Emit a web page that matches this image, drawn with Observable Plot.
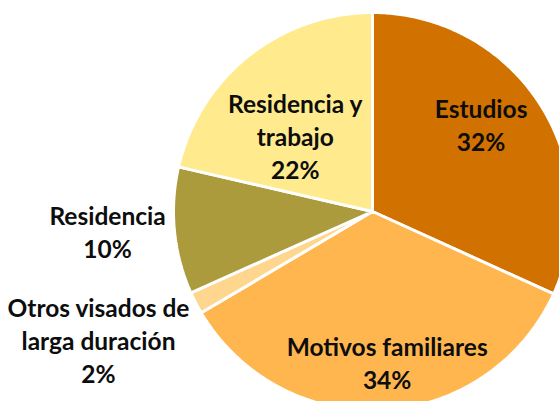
<!DOCTYPE html>
<html><head><meta charset="utf-8">
<script src="https://cdn.jsdelivr.net/npm/d3@7"></script>
<script src="https://cdn.jsdelivr.net/npm/@observablehq/plot@0.6"></script>
<style>html,body{margin:0;padding:0;background:#fff}svg{display:block}</style>
</head><body><div id="chart"></div>
<script>
const categories = ["Estudios", "Motivos familiares", "Otros visados de larga duración", "Residencia", "Residencia y trabajo"];
const nameLines = ["Estudios", "Motivos familiares", "Otros visados de\nlarga duración", "Residencia", "Residencia y\ntrabajo"];
const values = [31.8, 34.7, 1.8, 10.3, 21.4];
const pctLabels = ["32%", "34%", "2%", "10%", "22%"];
const colors = ["#D07100", "#FFB64F", "#FFD68E", "#AB9B3D", "#FFEB8E"];

// label layout (radius in pie-radius units, angle shift in degrees)
const labelRadius = [0.70, 0.76, 1.52, 1.335, 0.544];
const labelShift = [-6, -2.5, 2.3, 1.3, -7];

const arcs = d3.pie().sort(null).startAngle(0).endAngle(2 * Math.PI)(values);
const poly = [];
arcs.forEach((a, i) => {
  const cat = categories[i];
  poly.push({cat, x: 0, y: 0});
  const n = Math.max(4, Math.ceil((a.endAngle - a.startAngle) / 0.01));
  for (let k = 0; k <= n; k++) {
    const t = a.startAngle + (a.endAngle - a.startAngle) * k / n;
    poly.push({cat, x: Math.sin(t), y: Math.cos(t)});
  }
  poly.push({cat, x: 0, y: 0});
});
const labels = arcs.map((a, i) => {
  const mid = (a.startAngle + a.endAngle) / 2 + labelShift[i] * Math.PI / 180;
  return {
    text: nameLines[i] + "\n" + pctLabels[i],
    x: labelRadius[i] * Math.sin(mid),
    y: labelRadius[i] * Math.cos(mid)
  };
});

const chart = Plot.plot({
  width: 559,
  height: 401,
  margin: 0,
  x: {domain: [-1, 1], range: [173, 571], axis: null},
  y: {domain: [-1, 1], range: [410, 12], axis: null},
  color: {domain: categories, range: colors},
  marks: [
    Plot.line(poly, {x: "x", y: "y", z: "cat", fill: "cat", stroke: "white", strokeWidth: 3, strokeLinejoin: "miter", curve: "linear"}),
    Plot.text(labels, {x: "x", y: "y", text: "text", fontSize: 24.5, fontWeight: "bold", fontFamily: "Lato", lineHeight: 1.34, fill: "#0d0d0d"})
  ]
});
document.getElementById("chart").appendChild(chart);
</script>
</body></html>
